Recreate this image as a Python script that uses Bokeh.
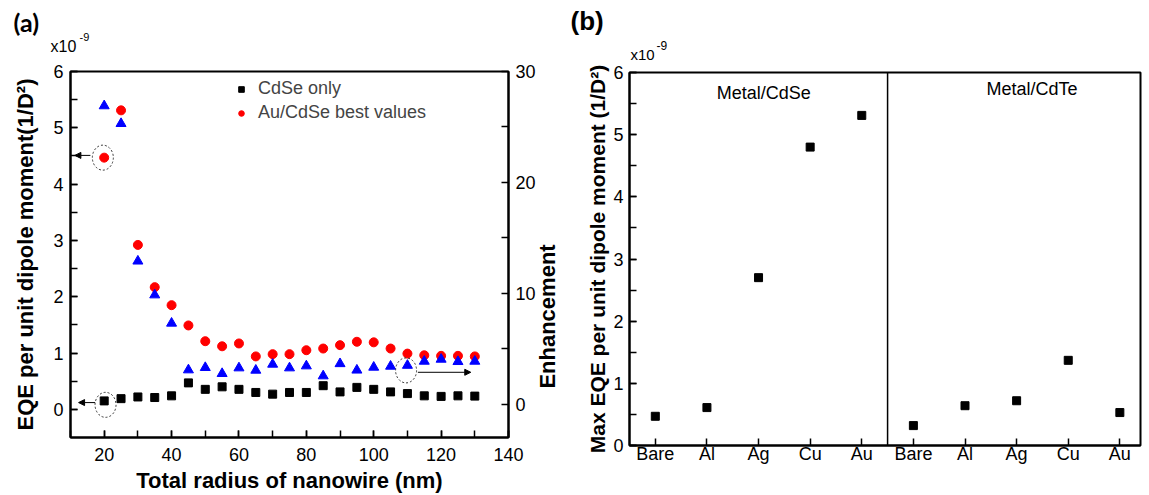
import math
from bokeh.plotting import figure
from bokeh.models import (Range1d, LinearAxis, FixedTicker, Label, Arrow,
                          NormalHead, Span)
from bokeh.layouts import row, column
from bokeh.embed import file_html
from bokeh.resources import INLINE

# ---------------- data: panel (a) ----------------
radius_nm = [20, 25, 30, 35, 40, 45, 50, 55, 60, 65, 70, 75, 80, 85, 90, 95,
             100, 105, 110, 115, 120, 125, 130]
cdse_only = [0.15, 0.19, 0.22, 0.21, 0.24, 0.47, 0.355, 0.40, 0.355, 0.30,
             0.27, 0.30, 0.30, 0.42, 0.31, 0.39, 0.355, 0.31, 0.28, 0.24,
             0.23, 0.24, 0.235]
au_cdse_best = [4.47, 5.31, 2.92, 2.17, 1.85, 1.49, 1.21, 1.12, 1.17, 0.94,
                0.98, 0.98, 1.05, 1.08, 1.14, 1.20, 1.19, 1.08, 0.99, 0.96,
                0.95, 0.95, 0.94]
enhancement = [26.9, 25.3, 12.9, 9.85, 7.3, 3.09, 3.3, 2.76, 3.27, 3.06, 3.6,
               3.27, 3.45, 2.55, 3.65, 3.07, 3.33, 3.42, 3.5, 3.87, 4.05,
               3.84, 3.87]

# ---------------- data: panel (b) ----------------
metals = ["Bare", "Al", "Ag", "Cu", "Au"]
max_eqe_cdse = [0.47, 0.61, 2.70, 4.80, 5.31]
max_eqe_cdte = [0.32, 0.64, 0.72, 1.37, 0.53]

FONT = "Liberation Sans"
HDR_H = 62


def style_axis(ax, label_size="22px", standoff=6):
    ax.axis_line_width = 2
    ax.axis_line_color = "black"
    ax.major_tick_in = 7
    ax.major_tick_out = 0
    ax.minor_tick_in = 7
    ax.minor_tick_out = 0
    ax.major_tick_line_width = 1.5
    ax.minor_tick_line_width = 1.5
    ax.major_tick_line_color = "black"
    ax.minor_tick_line_color = "black"
    ax.major_label_text_font = FONT
    ax.major_label_text_font_size = "18px"
    ax.major_label_text_color = "black"
    ax.major_label_standoff = standoff
    ax.axis_label_text_font = FONT
    ax.axis_label_text_font_style = "bold"
    ax.axis_label_text_font_size = label_size
    ax.axis_label_text_color = "black"


# =============== header strip (panel letters, exponent notes) ===============
hdr = figure(width=1149, height=HDR_H, output_backend="svg", toolbar_location=None,
             x_range=Range1d(0, 1149), y_range=Range1d(HDR_H, 0),
             x_axis_location=None, y_axis_location=None, min_border=0,
             outline_line_color=None)
hdr.xgrid.visible = False
hdr.ygrid.visible = False


def hdr_text(x, y, text, font, size, style="normal"):
    hdr.add_layout(Label(x=x, y=y, text=text, text_font=font, text_font_size=size,
                         text_font_style=style, text_baseline="middle",
                         text_color="black"))


hdr_text(13, 21, "(a)", "Lato", "25px", "bold")
hdr_text(50, 45.5, "x10", FONT, "16px")
hdr_text(79, 36, "-9", FONT, "11px")
hdr_text(570, 20, "(b)", FONT, "26px", "bold")
hdr_text(630, 53.5, "x10", FONT, "15px")
hdr_text(656, 45, "-9", FONT, "12px")

# =============== panel (a) ===============
pa = figure(width=575, height=495 - HDR_H, output_backend="svg", toolbar_location=None,
            x_range=Range1d(10, 140), y_range=Range1d(-0.5, 6),
            min_border_left=70, min_border_right=63, min_border_top=71 - HDR_H,
            min_border_bottom=58)
pa.extra_y_ranges = {"enh": Range1d(-3, 30)}
pa.xgrid.visible = False
pa.ygrid.visible = False
pa.outline_line_color = "black"
pa.outline_line_width = 2
pa.outline_line_alpha = 1

pa.xaxis.ticker = FixedTicker(ticks=[20, 40, 60, 80, 100, 120, 140],
                              minor_ticks=list(range(10, 141, 10)))
pa.yaxis.ticker = FixedTicker(ticks=[0, 1, 2, 3, 4, 5, 6],
                              minor_ticks=[x / 2 for x in range(0, 13)])
pa.xaxis.axis_label = "Total radius of nanowire (nm)"
pa.yaxis.axis_label = "EQE per unit dipole moment(1/D²)"
style_axis(pa.xaxis[0], standoff=10)
style_axis(pa.yaxis[0], standoff=7)
pa.xaxis.axis_label_standoff = 4
pa.yaxis.axis_label_standoff = 12

# leading no-break spaces lift the bottom-anchored label to its place
ra = LinearAxis(y_range_name="enh", axis_label="\u00a0" * 8 + "Enhancement",
                ticker=FixedTicker(ticks=[0, 10, 20, 30], minor_ticks=[5, 15, 25]),
                axis_label_orientation=math.pi / 2)
style_axis(ra, standoff=7)
ra.axis_label_standoff = 9
try:
    ra.axis_label_align = "start"
except Exception:
    pass
pa.add_layout(ra, "right")

pa.scatter(radius_nm, cdse_only, marker="square", size=8, color="black",
           legend_label="CdSe only")
pa.scatter(radius_nm, au_cdse_best, marker="circle", size=9, color="#ff0000",
           legend_label="Au/CdSe best values")
pa.scatter(radius_nm, enhancement, marker="triangle", size=10, color="#0000ff",
           y_range_name="enh")

# dashed ellipses around highlighted points
pa.ellipse(x=[radius_nm[0] - 0.4], y=[au_cdse_best[0]], width=21, height=25,
           width_units="screen", height_units="screen", fill_color=None,
           line_color="#333333", line_dash="2 2", line_width=1)
pa.ellipse(x=[radius_nm[0] + 0.4], y=[cdse_only[0] - 0.07], width=21, height=25,
           width_units="screen", height_units="screen", fill_color=None,
           line_color="#333333", line_dash="2 2", line_width=1)
pa.ellipse(x=[radius_nm[18] - 0.4], y=[enhancement[18] - 0.45], width=21, height=25,
           width_units="screen", height_units="screen", fill_color=None,
           line_color="#333333", line_dash="2 2", line_width=1, y_range_name="enh")

pa.add_layout(Arrow(end=NormalHead(size=6, fill_color="black", line_color="black"),
                    x_start=15.9, y_start=4.51, x_end=11.3, y_end=4.51,
                    line_width=1, line_color="black"))
pa.add_layout(Arrow(end=NormalHead(size=6, fill_color="black", line_color="black"),
                    x_start=17.3, y_start=0.12, x_end=12.4, y_end=0.12,
                    line_width=1, line_color="black"))
pa.add_layout(Arrow(end=NormalHead(size=6, fill_color="black", line_color="black"),
                    x_start=113.1, y_start=2.88, x_end=128.8, y_end=2.88,
                    line_width=1, line_color="black", y_range_name="enh"))

leg = pa.legend[0]
leg.location = (164, 314)
leg.background_fill_alpha = 0
leg.border_line_alpha = 0
leg.label_text_font = FONT
leg.label_text_font_size = "18px"
leg.glyph_width = 14
leg.glyph_height = 20
leg.label_height = 20
leg.spacing = 3
leg.padding = 0
leg.margin = 0
leg.label_standoff = 10

# =============== panel (b) ===============
pb = figure(width=574, height=495 - HDR_H, output_backend="svg", toolbar_location=None,
            x_range=Range1d(0.5, 10.4), y_range=Range1d(0, 6),
            min_border_left=54, min_border_right=9, min_border_top=72 - HDR_H,
            min_border_bottom=50)
pb.xgrid.visible = False
pb.ygrid.visible = False
pb.outline_line_color = "black"
pb.outline_line_width = 2
pb.outline_line_alpha = 1

pos_cdse = list(range(1, len(metals) + 1))
pos_cdte = list(range(len(metals) + 1, 2 * len(metals) + 1))
pb.xaxis.ticker = FixedTicker(ticks=pos_cdse + pos_cdte, minor_ticks=[])
pb.xaxis.major_label_overrides = {p: m for p, m in zip(pos_cdse + pos_cdte, metals + metals)}
pb.yaxis.ticker = FixedTicker(ticks=[0, 1, 2, 3, 4, 5, 6],
                              minor_ticks=[x / 2 for x in range(0, 13)])
pb.yaxis.axis_label = "Max EQE per unit dipole moment (1/D²)"
style_axis(pb.xaxis[0], standoff=-2)
style_axis(pb.yaxis[0], label_size="21px", standoff=6)
pb.yaxis.axis_label_standoff = 1

pb.scatter(pos_cdse, max_eqe_cdse, marker="square", size=8, color="black")
pb.scatter(pos_cdte, max_eqe_cdte, marker="square", size=8, color="black")

pb.add_layout(Span(location=5.5, dimension="height", line_color="black", line_width=1.5))
pb.add_layout(Label(x=3.1, y=5.67, text="Metal/CdSe", text_font=FONT,
                    text_font_size="18px", text_align="center", text_baseline="middle",
                    text_color="black"))
pb.add_layout(Label(x=8.3, y=5.73, text="Metal/CdTe", text_font=FONT,
                    text_font_size="18px", text_align="center", text_baseline="middle",
                    text_color="black"))

layout = column(hdr, row(pa, column(pb)))
open("out.html", "w").write(file_html(layout, INLINE))
